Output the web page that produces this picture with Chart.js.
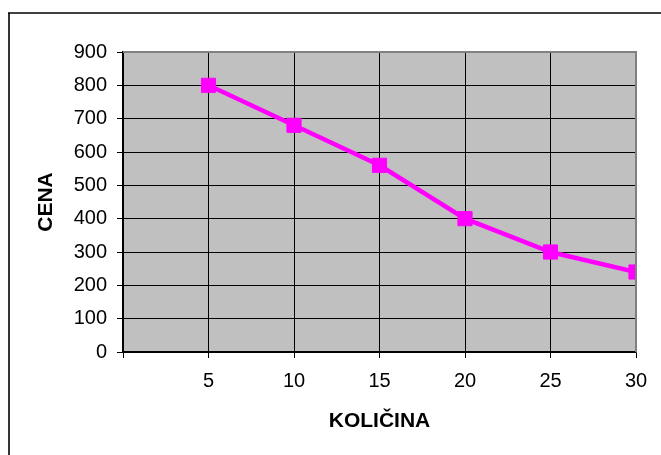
<!DOCTYPE html>
<html>
<head>
<meta charset="utf-8">
<script src="https://cdn.jsdelivr.net/npm/chart.js@4/dist/chart.umd.min.js"></script>
<style>
  html,body{margin:0;padding:0;background:#fff;}
  #wrap{width:661px;height:455px;position:relative;}
</style>
</head>
<body>
<div id="wrap"><canvas id="c" width="661" height="455"></canvas></div>
<script>
const quantities = [5, 10, 15, 20, 25, 30];
const prices = [800, 680, 560, 400, 300, 240];
const xTitle = 'KOLIČINA';
const yTitle = 'CENA';

const FONT = "'Liberation Sans', Arial, sans-serif";

const frame = {
  id: 'frame',
  beforeDraw(chart) {
    const {ctx, chartArea: a} = chart;
    ctx.save();
    ctx.fillStyle = '#C0C0C0';
    ctx.fillRect(a.left, a.top, a.right - a.left, a.bottom - a.top);
    ctx.restore();
  },
  afterDraw(chart) {
    const {ctx, chartArea: a} = chart;
    ctx.save();
    ctx.strokeStyle = '#808080';
    ctx.lineWidth = 2;
    ctx.beginPath();
    ctx.moveTo(a.left, a.top);
    ctx.lineTo(a.right, a.top);
    ctx.lineTo(a.right, a.bottom);
    ctx.stroke();
    // outer chart frame (cropped)
    ctx.strokeStyle = '#333';
    ctx.lineWidth = 2;
    ctx.beginPath();
    ctx.moveTo(9, 455);
    ctx.lineTo(9, 13);
    ctx.stroke();
    ctx.strokeStyle = '#000';
    ctx.lineWidth = 1.5;
    ctx.beginPath();
    ctx.moveTo(8, 13);
    ctx.lineTo(661, 13);
    ctx.stroke();
    ctx.restore();
  }
};

new Chart(document.getElementById('c'), {
  type: 'scatter',
  data: {
    datasets: [{
      data: quantities.map((q, i) => ({x: q, y: prices[i]})),
      showLine: true,
      borderColor: '#FF00FF',
      backgroundColor: '#FF00FF',
      borderWidth: 4.5,
      pointStyle: 'rect',
      pointRadius: 10,
      pointBorderWidth: 1,
      pointHoverRadius: 10,
      tension: 0
    }]
  },
  options: {
    responsive: false,
    animation: false,
    events: [],
    layout: {padding: {top: 52, right: 25, left: 0, bottom: 0}},
    plugins: {legend: {display: false}, tooltip: {enabled: false}},
    scales: {
      x: {
        type: 'linear',
        min: 0, max: 30,
        afterFit(s) { s.height = 103; },
        ticks: {
          stepSize: 5,
          color: '#000',
          padding: 11,
          font: {family: FONT, size: 20},
          callback: v => v === 0 ? '' : v
        },
        grid: {color: ctx => ctx.tick && ctx.tick.value === 30 ? '#808080' : '#000', lineWidth: 1, tickLength: 6, tickColor: '#000'},
        border: {color: '#000', width: 1.5},
        title: {display: true, text: xTitle, color: '#000', font: {family: FONT, size: 21, weight: 'bold'}, padding: {top: 0, bottom: 21}}
      },
      y: {
        min: 0, max: 900,
        afterFit(s) { s.width = 123; },
        ticks: {
          stepSize: 100,
          color: '#000',
          padding: 10,
          font: {family: FONT, size: 20}
        },
        grid: {color: ctx => ctx.tick && ctx.tick.value === 900 ? '#808080' : '#000', lineWidth: 1, tickLength: 6, tickColor: '#000'},
        border: {color: '#000', width: 1.5},
        title: {display: true, text: yTitle, color: '#000', font: {family: FONT, size: 21, weight: 'bold'}, padding: {top: 34, bottom: 0}}
      }
    }
  },
  plugins: [frame]
});
</script>
</body>
</html>
